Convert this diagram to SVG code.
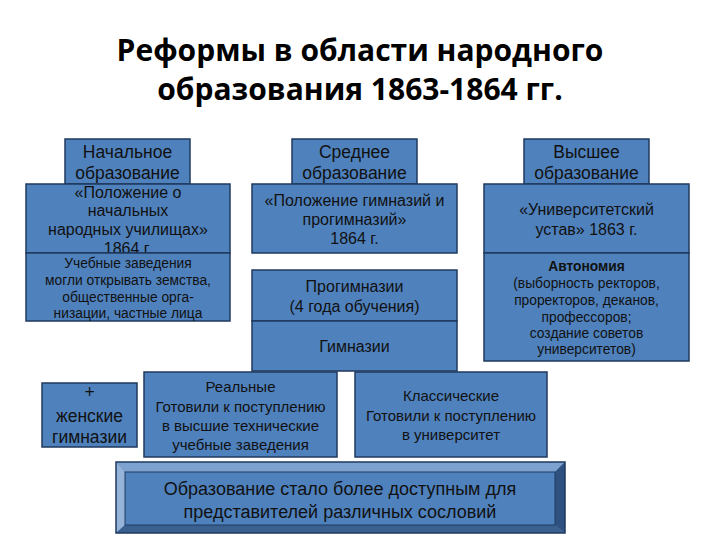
<svg xmlns="http://www.w3.org/2000/svg" width="720" height="540" viewBox="0 0 720 540">
<style>
.box{fill:#4f81bd;stroke:#1f3a5f;stroke-width:1.5}
.t{font-family:"Liberation Sans",Arial,sans-serif;fill:#111;text-anchor:middle}
.h{font-size:17.5px}
.m{font-size:16px}
.r{font-size:15px}
.s{font-size:13.8px}
.title{font-family:"Open Sans","Noto Sans",sans-serif;font-weight:bold;font-size:30px;fill:#000;text-anchor:middle}
</style>
<rect width="720" height="540" fill="#fff"/>
<text class="title" x="360" y="61">Реформы в области народного</text>
<text class="title" x="360" y="100">образования 1863-1864 гг.</text>

<g id="nachalnoe">
<rect class="box" x="65" y="139" width="125" height="45"/>
<text class="t h" x="127.5" y="158">Начальное</text>
<text class="t h" x="127.5" y="179">образование</text>
</g>
<g id="polozhenie-nach">
<rect class="box" x="26" y="184" width="204" height="69"/>
<text class="t m" x="128" y="197.5">«Положение о</text>
<text class="t m" x="128" y="216">начальных</text>
<text class="t m" x="128" y="235">народных училищах»</text>
<text class="t m" x="128" y="254">1864 г.</text>
</g>
<g id="uchebnye">
<rect class="box" x="26" y="253" width="204" height="68"/>
<text class="t s" x="128" y="268">Учебные заведения</text>
<text class="t s" x="128" y="285">могли открывать земства,</text>
<text class="t s" x="128" y="302">общественные орга-</text>
<text class="t s" x="128" y="318">низации, частные лица</text>
</g>

<g id="srednee">
<rect class="box" x="292" y="139" width="125" height="45"/>
<text class="t h" x="354.5" y="158">Среднее</text>
<text class="t h" x="354.5" y="179">образование</text>
</g>
<g id="polozhenie-gimn">
<rect class="box" x="252" y="184" width="205" height="69"/>
<text class="t m" x="354.5" y="206">«Положение гимназий и</text>
<text class="t m" x="354.5" y="225">прогимназий»</text>
<text class="t m" x="354.5" y="244">1864 г.</text>
</g>
<g id="progimnazii">
<rect class="box" x="252" y="270" width="205" height="51"/>
<text class="t m" x="354.5" y="292">Прогимназии</text>
<text class="t m" x="354.5" y="312">(4 года обучения)</text>
</g>
<g id="gimnazii">
<rect class="box" x="252" y="321" width="205" height="50"/>
<text class="t m" x="354.5" y="352">Гимназии</text>
</g>

<g id="vysshee">
<rect class="box" x="524" y="139" width="125" height="45"/>
<text class="t h" x="586.5" y="158">Высшее</text>
<text class="t h" x="586.5" y="179">образование</text>
</g>
<g id="ustav">
<rect class="box" x="484" y="184" width="205" height="69"/>
<text class="t m" x="586.5" y="215">«Университетский</text>
<text class="t m" x="586.5" y="235">устав» 1863 г.</text>
</g>
<g id="avtonomiya">
<rect class="box" x="484" y="253" width="205" height="108"/>
<text class="t s" x="586.5" y="271" font-weight="bold">Автономия</text>
<text class="t s" x="586.5" y="288">(выборность ректоров,</text>
<text class="t s" x="586.5" y="305">проректоров, деканов,</text>
<text class="t s" x="586.5" y="322">профессоров;</text>
<text class="t s" x="586.5" y="338">создание советов</text>
<text class="t s" x="586.5" y="354">университетов)</text>
</g>

<g id="zhenskie">
<rect class="box" x="42" y="383" width="95" height="64"/>
<text class="t h" x="89.5" y="398">+</text>
<text class="t h" x="89.5" y="422">женские</text>
<text class="t h" x="89.5" y="443">гимназии</text>
</g>
<g id="realnye">
<rect class="box" x="144" y="372" width="193" height="85"/>
<text class="t r" x="240.5" y="392">Реальные</text>
<text class="t r" x="240.5" y="412">Готовили к поступлению</text>
<text class="t r" x="240.5" y="431">в высшие технические</text>
<text class="t r" x="240.5" y="450">учебные заведения</text>
</g>
<g id="klassicheskie">
<rect class="box" x="355" y="372" width="192" height="85"/>
<text class="t r" x="451" y="401">Классические</text>
<text class="t r" x="451" y="421">Готовили к поступлению</text>
<text class="t r" x="451" y="440">в университет</text>
</g>

<g id="itog">
<rect x="116" y="462" width="449" height="71" fill="#4f81bd"/>
<polygon points="116,462 565,462 555,472 125,472" fill="#7ea2cf"/>
<polygon points="116,462 125,472 125,525 116,533" fill="#96b4da"/>
<polygon points="565,462 565,533 555,525 555,472" fill="#2f5180"/>
<polygon points="116,533 125,525 555,525 565,533" fill="#3a6090"/>
<rect x="116" y="462" width="449" height="71" fill="none" stroke="#1f3a5f" stroke-width="1.5"/>
<rect x="125" y="472" width="430" height="53" fill="none" stroke="#1f3a5f" stroke-width="1"/>
<text class="t" font-size="18" x="340" y="495">Образование стало более доступным для</text>
<text class="t" font-size="18" x="340" y="518">представителей различных сословий</text>
</g>
<g id="connectors"/>
</svg>
